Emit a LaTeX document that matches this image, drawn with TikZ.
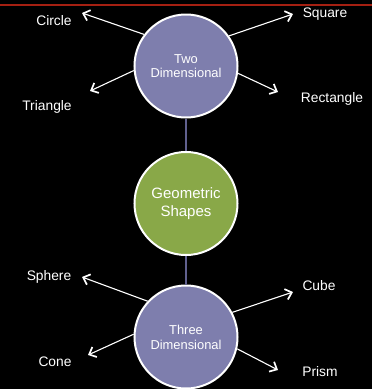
\documentclass[tikz,border=0pt]{standalone}
\usepackage{fontspec}
\setmainfont{Liberation Sans}
\usetikzlibrary{arrows.meta}
\definecolor{dimfill}{RGB}{126,126,173}
\definecolor{geofill}{RGB}{137,168,72}
\definecolor{linkcol}{RGB}{96,96,142}
\definecolor{rulecol}{RGB}{165,32,18}
\begin{document}
\begin{tikzpicture}[x=1pt,y=-1pt,
    shapecirc/.style={circle,draw=white,line width=2pt,minimum size=103pt,inner sep=0pt,align=center,text=white},
    lbl/.style={text=white,inner sep=0pt,font=\fontsize{13.8}{16}\selectfont},
    outarrow/.style={draw=white,line width=1.1pt,-{Straight Barb[length=6pt,width=11pt,line width=1.7pt]}},
    link/.style={draw=linkcol,line width=2.2pt}]
    %% background and top rule
    \fill[black] (0,0) rectangle (372,389);
    \useasboundingbox (0,0) rectangle (372,389);
    \draw[rulecol,line width=1.5pt] (0,5) -- (372,5);
    %% circles
    \node[shapecirc,fill=dimfill,font=\fontsize{12.9}{14}\selectfont] (two) at (186,66) {Two\\Dimensional};
    \node[shapecirc,fill=geofill,font=\fontsize{15}{18}\selectfont] (geo) at (186,203.5) {Geometric\\Shapes};
    \node[shapecirc,fill=dimfill,font=\fontsize{12.9}{15}\selectfont] (three) at (186,337) {Three\\Dimensional};
    \draw[link] (two) -- (geo);
    \draw[link] (geo) -- (three);
    %% two dimensional shapes
    \node[lbl] (circ) at (54,21) {Circle};
    \node[lbl] (squ) at (325,14) {Square};
    \node[lbl] (tri) at (47,107) {Triangle};
    \node[lbl] (rect) at (332,99) {Rectangle};
    \coordinate (circtip) at (82,13);
    \coordinate (squtip) at (293,14);
    \coordinate (tritip) at (90,91);
    \coordinate (recttip) at (278,92);
    \draw[outarrow] (two.143) -- (circtip);
    \draw[outarrow] (two.35) -- (squtip);
    \draw[outarrow] (two.185) -- (tritip);
    \draw[outarrow] (two.-8) -- (recttip);
    %% three dimensional shapes
    \node[lbl] (sph) at (49,277) {Sphere};
    \node[lbl] (cube) at (319,286) {Cube};
    \node[lbl] (cone) at (55,362) {Cone};
    \node[lbl] (prism) at (320,372) {Prism};
    \coordinate (sphtip) at (82,277);
    \coordinate (cubetip) at (293,292);
    \coordinate (conetip) at (88,355);
    \coordinate (prismtip) at (278,370);
    \draw[outarrow] (three.137) -- (sphtip);
    \draw[outarrow] (three.28) -- (cubetip);
    \draw[outarrow] (three.177) -- (conetip);
    \draw[outarrow] (three.-13) -- (prismtip);
\end{tikzpicture}
\end{document}
